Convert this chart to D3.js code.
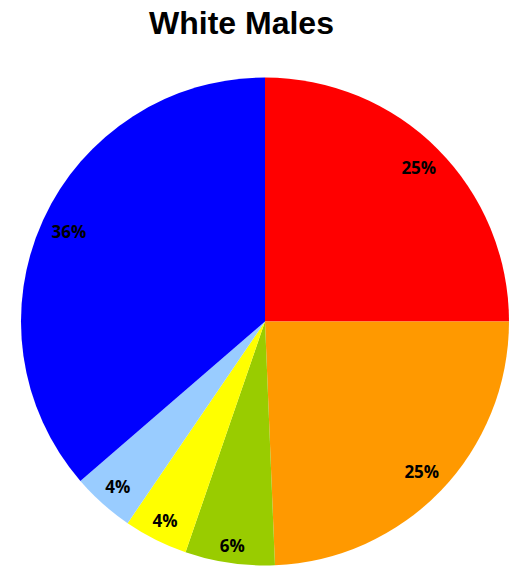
<!DOCTYPE html>
<html>
<head>
<meta charset="utf-8">
<script src="https://cdn.jsdelivr.net/npm/d3@7"></script>
<style>
    body { margin: 0; background: #fff; }
</style>
</head>
<body>
<div id="chart"></div>
<script>
let categories = ["A", "B", "C", "D", "E", "F"];
let shares = [25.0, 24.35, 5.93, 4.24, 4.14, 36.34];
let labels = ["25%", "25%", "6%", "4%", "4%", "36%"];
let colors = ["#ff0000", "#ff9900", "#99cc00", "#ffff00", "#99ccff", "#0000ff"];

let layout = {
    width: 510,
    height: 566,
    cx: 265,
    cy: 321.5,
    radius: 244,
    labelMargin: 10
};

let svg = d3.select("#chart").append("svg").attr("width", layout.width).attr("height", layout.height);

svg.append("text").text("White Males")
    .attr("x", 241.5).attr("y", 34)
    .attr("text-anchor", "middle")
    .attr("style", "font: bold 32px 'Liberation Sans', Arial, sans-serif").attr("fill", "#000");

let pie = d3.pie().sort(null).value(d => d.value);
let arc = d3.arc().innerRadius(0).outerRadius(layout.radius);
let data = categories.map((c, i) => ({ name: c, value: shares[i], label: labels[i], color: colors[i] }));
let arcs = pie(data);

let g = svg.append("g").attr("transform", "translate(" + layout.cx + "," + layout.cy + ")");

g.selectAll("path.slice").data(arcs).enter().append("path")
    .attr("class", "slice")
    .attr("d", arc)
    .attr("fill", d => d.data.color);

// labels placed "inside end": the box's outer corner sits labelMargin inside the rim
arcs.forEach(d => {
    let t = g.append("text").text(d.data.label)
        .attr("text-anchor", "middle")
        .attr("dominant-baseline", "central")
        .attr("style", "font: bold 17px 'Open Sans', sans-serif").attr("fill", "#000");
    let box = t.node().getBBox();
    let mid = (d.startAngle + d.endAngle) / 2;
    let sx = Math.sin(mid), cy = -Math.cos(mid);
    let extent = Math.abs(sx) * box.width / 2 + Math.abs(cy) * 6;
    let r = layout.radius - layout.labelMargin - extent;
    t.attr("x", r * sx).attr("y", r * cy);
});
</script>
</body>
</html>
